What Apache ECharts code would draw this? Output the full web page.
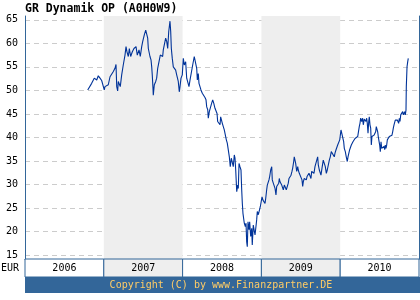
<!DOCTYPE html>
<html><head><meta charset="utf-8">
<script src="https://cdn.jsdelivr.net/npm/echarts@6/dist/echarts.min.js"></script>
<style>html,body{margin:0;padding:0;background:#fff}#c{width:420px;height:300px}</style>
</head><body><div id="c"></div>
<script>
var title = 'GR Dynamik OP (A0H0W9)';
var currency = 'EUR';
var copyright = 'Copyright (C) by www.Finanzpartner.DE';
var years = [2006, 2007, 2008, 2009, 2010];
var shadedYears = [2007, 2009];
var yTicks = [15, 20, 25, 30, 35, 40, 45, 50, 55, 60, 65];
// decimal-year dates and fund prices (EUR)
var dates = [
2006.796,2006.846,2006.879,2006.910,2006.930,2006.952,2006.973,2006.994,2007.006,2007.015,
2007.037,2007.057,2007.079,2007.100,2007.121,2007.142,2007.155,2007.164,2007.176,2007.184,
2007.197,2007.209,2007.227,2007.247,2007.269,2007.282,2007.294,2007.311,2007.324,2007.341,
2007.362,2007.383,2007.396,2007.409,2007.425,2007.447,2007.463,2007.481,2007.494,2007.514,
2007.532,2007.544,2007.557,2007.565,2007.586,2007.599,2007.608,2007.615,2007.624,2007.628,
2007.641,2007.659,2007.671,2007.684,2007.700,2007.717,2007.735,2007.747,2007.755,2007.777,
2007.785,2007.798,2007.811,2007.824,2007.840,2007.849,2007.857,2007.869,2007.882,2007.895,
2007.912,2007.925,2007.938,2007.945,2007.958,2007.967,2007.980,2007.996,2008.009,2008.022,
2008.039,2008.052,2008.065,2008.081,2008.094,2008.115,2008.128,2008.148,2008.166,2008.179,
2008.187,2008.199,2008.208,2008.221,2008.233,2008.250,2008.263,2008.275,2008.284,2008.297,
2008.306,2008.319,2008.326,2008.339,2008.357,2008.369,2008.382,2008.395,2008.411,2008.424,
2008.437,2008.445,2008.462,2008.475,2008.483,2008.496,2008.504,2008.516,2008.529,2008.547,
2008.555,2008.567,2008.580,2008.593,2008.605,2008.618,2008.631,2008.643,2008.656,2008.665,
2008.674,2008.687,2008.699,2008.707,2008.716,2008.728,2008.741,2008.750,2008.758,2008.766,
2008.775,2008.783,2008.796,2008.805,2008.813,2008.821,2008.830,2008.843,2008.851,2008.864,
2008.877,2008.884,2008.897,2008.910,2008.919,2008.931,2008.940,2008.948,2008.961,2008.973,
2008.986,2008.995,2009.008,2009.020,2009.033,2009.046,2009.055,2009.067,2009.075,2009.088,
2009.096,2009.105,2009.118,2009.131,2009.138,2009.151,2009.164,2009.173,2009.185,2009.194,
2009.207,2009.220,2009.227,2009.236,2009.249,2009.258,2009.270,2009.278,2009.291,2009.303,
2009.316,2009.329,2009.341,2009.350,2009.363,2009.376,2009.388,2009.397,2009.410,2009.417,
2009.426,2009.435,2009.448,2009.461,2009.468,2009.481,2009.494,2009.502,2009.515,2009.524,
2009.532,2009.544,2009.557,2009.570,2009.579,2009.591,2009.604,2009.617,2009.629,2009.638,
2009.651,2009.667,2009.680,2009.693,2009.705,2009.714,2009.722,2009.735,2009.744,2009.756,
2009.769,2009.785,2009.798,2009.811,2009.824,2009.836,2009.849,2009.862,2009.874,2009.887,
2009.900,2009.912,2009.925,2009.934,2009.947,2009.959,2009.968,2009.981,2009.994,2010.001,
2010.010,2010.023,2010.035,2010.044,2010.052,2010.065,2010.077,2010.090,2010.099,2010.108,
2010.120,2010.128,2010.141,2010.150,2010.162,2010.175,2010.188,2010.200,2010.209,2010.222,
2010.235,2010.242,2010.251,2010.260,2010.273,2010.285,2010.293,2010.306,2010.315,2010.327,
2010.336,2010.344,2010.353,2010.362,2010.369,2010.378,2010.387,2010.395,2010.403,2010.412,
2010.420,2010.429,2010.438,2010.450,2010.458,2010.467,2010.476,2010.483,2010.492,2010.501,
2010.509,2010.518,2010.527,2010.534,2010.547,2010.556,2010.565,2010.572,2010.581,2010.590,
2010.598,2010.606,2010.615,2010.623,2010.632,2010.641,2010.648,2010.657,2010.666,2010.674,
2010.683,2010.692,2010.699,2010.708,2010.717,2010.725,2010.733,2010.742,2010.750,2010.759,
2010.768,2010.775,2010.784,2010.793,2010.801,2010.810,2010.818,2010.826,2010.835,2010.839,
2010.848,2010.857,2010.860,2010.864
];
var prices = [
50.1,51.5,52.6,52.2,53.1,52.6,52.1,51.9,50.1,50.8,
50.8,51.2,52.9,52.6,54.0,54.7,55.5,50.8,49.9,51.9,
51.5,50.8,53.3,55.4,57.5,59.3,58.2,57.2,58.9,57.2,
58.2,58.9,58.6,59.3,57.5,58.6,57.2,59.3,60.4,61.8,
62.8,62.5,61.1,58.9,57.2,56.5,55.0,53.3,50.5,49.0,
51.2,51.9,52.6,54.7,55.0,57.5,57.9,57.2,58.6,58.9,
61.1,60.4,58.9,62.5,64.7,62.5,58.9,56.8,55.0,54.7,
54.3,53.3,53.3,51.9,49.7,50.8,52.6,53.3,56.8,55.4,
56.1,52.6,52.9,50.8,52.2,52.2,55.4,57.2,56.8,54.7,
52.2,53.6,51.5,51.2,50.1,49.4,49.7,49.0,48.5,48.0,
46.5,45.9,44.1,45.5,45.8,47.3,48.0,47.3,46.2,45.8,
45.1,43.4,43.7,42.7,44.4,44.1,43.0,42.7,41.6,42.0,
39.5,38.8,39.1,35.9,33.8,35.6,35.2,33.8,36.3,35.6,
33.1,28.5,29.9,29.2,34.5,33.8,33.1,28.9,26.0,23.9,
24.3,21.8,21.1,21.8,17.9,16.8,22.1,20.4,22.1,19.0,
20.7,17.2,21.4,21.0,19.3,21.1,22.5,24.3,23.6,23.9,
25.3,25.0,27.4,26.7,26.4,26.0,27.1,28.9,29.9,30.3,
31.0,31.7,33.1,33.8,31.0,30.3,30.6,29.2,27.8,29.6,
29.2,30.3,31.3,30.6,30.6,29.9,29.6,28.9,29.9,29.6,
28.9,29.2,30.3,31.3,31.0,32.0,32.8,33.5,34.9,35.9,
35.2,34.5,32.8,33.8,33.1,32.4,32.8,32.0,31.0,29.6,
30.6,31.3,31.7,31.0,31.7,32.0,32.4,32.2,31.3,32.8,
33.1,32.4,33.8,33.5,34.2,35.9,34.2,33.1,32.8,32.0,
33.5,35.2,34.5,33.8,32.4,33.1,33.5,35.2,35.9,37.0,
37.4,36.7,35.9,36.7,37.4,37.7,38.4,38.8,39.5,39.1,
41.6,42.0,41.3,39.1,37.7,37.0,35.9,34.9,35.9,36.3,
37.4,37.7,38.4,38.0,39.1,39.5,39.8,39.5,39.8,40.2,
40.5,42.3,43.0,44.1,43.4,44.1,42.7,43.9,44.1,43.4,
44.1,43.0,40.9,43.4,44.4,42.7,42.0,38.4,40.2,39.8,
40.2,40.5,40.5,41.2,42.3,42.0,41.2,40.2,40.5,38.4,
37.0,39.1,37.7,38.1,37.4,38.1,37.4,38.4,37.7,38.4,
39.5,39.1,39.5,40.2,39.8,40.5,40.2,40.5,41.2,42.0,
42.7,43.0,43.7,44.1,43.4,43.7,43.4,43.0,44.1,43.4,
44.8,44.4,45.1,45.5,44.8,44.4,45.5,44.8,45.8,50.8,
55.0,56.1,55.8,56.8
];

var MONO = "'DejaVu Sans Mono', 'Liberation Mono', monospace";
var BLUE = '#336699';
var lineData = dates.map(function (d, i) { return [d, prices[i]]; });
var shadeAreas = shadedYears.map(function (y) { return [{ xAxis: y }, { xAxis: y + 1 }]; });
var yearCells = years.map(function (y) {
  return [{ xAxis: y, name: String(y), itemStyle: { color: shadedYears.indexOf(y) >= 0 ? '#eeeeee' : '#ffffff' } }, { xAxis: y + 1 }];
});

var chart = echarts.init(document.getElementById('c'), null, { renderer: 'canvas' });
chart.setOption({
  animation: false,
  backgroundColor: '#ffffff',
  grid: [
    { left: 25, top: 16, width: 394, height: 243 },
    { left: 25, top: 259, width: 394, height: 18 }
  ],
  xAxis: [
    { type: 'value', gridIndex: 0, min: 2006, max: 2011,
      axisLine: { show: true, lineStyle: { color: BLUE, width: 1 } },
      axisTick: { show: false }, axisLabel: { show: false }, splitLine: { show: false } },
    { type: 'value', gridIndex: 1, min: 2006, max: 2011, show: false }
  ],
  yAxis: [
    { type: 'value', gridIndex: 0, min: 14.2, max: 65.8,
      axisLine: { show: true, lineStyle: { color: BLUE, width: 1 } },
      axisTick: { show: false, customValues: yTicks },
      axisLabel: { customValues: yTicks, color: '#000', fontFamily: MONO, fontSize: 10, margin: 7 },
      splitLine: { show: true, lineStyle: { color: '#cccccc', type: [5, 4], width: 1 } } },
    { type: 'value', gridIndex: 0, min: 14.2, max: 65.8, position: 'right',
      axisLine: { show: true, lineStyle: { color: BLUE, width: 1 } },
      axisTick: { show: false }, axisLabel: { show: false }, splitLine: { show: false } },
    { type: 'value', gridIndex: 1, min: 0, max: 1, show: false }
  ],
  series: [
    { type: 'line', xAxisIndex: 0, yAxisIndex: 0, z: -1, data: [], silent: true,
      markArea: { silent: true, itemStyle: { color: '#eeeeee' }, data: shadeAreas } },
    { type: 'line', xAxisIndex: 0, yAxisIndex: 0, data: lineData, showSymbol: false, symbol: 'none',
      lineStyle: { color: '#003399', width: 1.1 }, itemStyle: { color: '#003399' }, silent: true },
    { type: 'line', xAxisIndex: 1, yAxisIndex: 2, data: [], silent: true,
      markArea: { silent: true,
        itemStyle: { borderColor: BLUE, borderWidth: 1 },
        label: { show: true, position: 'inside', color: '#000', fontFamily: MONO, fontSize: 10 },
        data: yearCells } }
  ],
  graphic: [
    { type: 'text', left: 25, top: 3, style: { text: title, font: "bold 11.5px " + MONO, fill: '#000' } },
    { type: 'text', left: 1, top: 263, style: { text: currency, font: "10px " + MONO, fill: '#000' } },
    { type: 'rect', left: 25, top: 277, shape: { width: 395, height: 16 }, style: { fill: BLUE } },
    { type: 'text', x: 221, y: 285, style: { text: copyright, font: "10px " + MONO, fill: '#ffcc66', align: 'center', verticalAlign: 'middle' } }
  ]
});
</script></body></html>
